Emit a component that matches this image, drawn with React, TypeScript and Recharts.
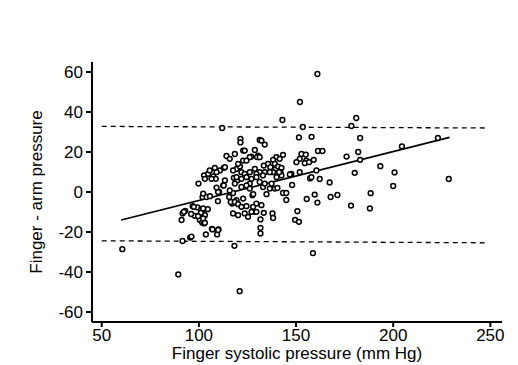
import React from 'react';
import { ScatterChart, Scatter, XAxis, YAxis, ReferenceLine } from 'recharts';

// finger systolic pressure (mm Hg) vs finger - arm difference
const xValues = [
  161, 152, 143, 112, 153.5, 181, 178.5, 183, 151.5, 158, 161.3, 163.6, 152.8, 155, 182, 176, 204.5, 223, 228.6, 193.4,
  200.7, 200, 180.2, 167.3, 157.2, 162.2, 148, 188.4, 188, 178.3, 171.3, 167.8, 159.6, 161, 155.5, 145, 150.7, 149.5, 151.5, 137.9,
  138.2, 158.7, 131.7, 131.7, 131.7, 121, 133.4, 128.8, 60.6, 89.4, 91.6, 95.5, 103.6, 106.7, 110.1, 109.4, 118.3, 91.1, 91.6, 93,
  97.9, 96.8, 99.3, 101.2, 101.9, 103.1, 100.5, 101.7, 102.6, 104.6, 101.9, 104, 109.8, 117.1, 119.4, 117.6, 120.2, 123.6, 127.6, 125.3,
  99.8, 102.2, 105.7, 110.4, 112.5, 115.6, 117.6, 116.4, 118, 119.7, 113.4, 121.9, 126.2, 97.4, 96.2, 121.4, 121.4, 131.3, 114.2, 115.9,
  118.5, 122.8, 128.8, 127, 122.8, 112.8, 110.8, 109.1, 107.4, 108.7, 119.4, 121.1, 109.9, 109.1, 128, 132.2, 133.9, 130.5, 143.3, 139.9,
  141.6, 138.2, 151.9, 155.3, 154.5, 156.7, 159.1, 150.2, 126.2, 133.4, 135.6, 136.8, 139.1, 139.6, 140.8, 142.5, 142, 138.2, 136.5, 133.9,
  131.3, 128.8, 129.6, 147.6, 151.9, 160.5, 133, 142.5, 146.8, 157.9, 143.3, 145, 132.2, 129.6, 127.9, 129.6, 127.1, 133, 133.9, 131.3,
  136.5, 134.8, 139.1, 137.4, 141.3, 140, 140.4, 123.6, 120.2, 124.5, 129.9, 117.6, 121.9, 123.6, 126.2, 119.4, 121.9, 124.5, 127.1, 129.6,
  106.5, 102.7, 103.1, 104.8, 105.6, 108.2, 113.4, 131.3, 112.8, 115.9, 118.5, 124.5, 126.2, 118.5, 120.2, 121.9, 124.5, 122.8, 183, 92.3,
  102.2, 101, 99.6, 102.2, 103.1, 107, 109.9, 96,
];
const yValues = [
  59, 45, 36, 32, 32.5, 37, 33, 27, 27.3, 27.6, 20.5, 20.5, 19, 18.7, 20, 17.7, 22.8, 27, 6.5, 12.9,
  9.8, 3, 9.6, 4.8, 6.8, 6.5, 3.5, -0.6, -8.2, -6.8, -1.5, -2.5, -1.3, -5.3, -3.5, -4, -9.6, -13.9, -14.9, -10.7,
  -13, -30.6, -13.7, -17.9, -20.7, -49.6, -10.4, -9.9, -28.6, -41.2, -24.5, -22.8, -21.2, -18.4, -18.7, -21.2, -26.9, -14, -10.7, -9.4,
  -11.9, -7.1, -7.7, -8.6, -10.2, -11.6, -14, -15.2, -15.7, -8.6, -2.5, -2.5, -4.6, -5.8, -4.1, -10.7, -11.6, -10.7, -1.6, -12.4,
  4.2, -0.8, -2.1, 0, 3.3, -2.5, -0.5, -5, 7.1, 5.8, 5.8, 2.5, 4.2, -7.4, -22.3, 26.5, 24.8, 26, 18, 16.6,
  19, 20.7, 21, 17.7, 15.7, 12.1, 10.8, 9.9, 7.8, 6.6, 11.6, 12.8, 0, 2.2, -1.1, 25.7, 23.7, 18.2, 18.6, 17.4,
  16.6, 16.1, 16.6, 15.7, 14.4, 14.9, 16.1, 14.9, 17.4, 13.2, 14.1, 12.4, 14.1, 11.6, 12.7, 12.1, 9.9, 9.9, 9.9, 9.9,
  9.9, 11.6, 9.1, 9.1, 9.9, 10.8, 8.3, 8.3, 8.8, 7.4, -0.5, -0.5, -6.6, -5.8, -7.4, -9.9, -9.9, 2.5, 4.2, 5,
  1.7, -1.1, 1.7, 4.2, 9.9, 7.4, 2, 20.7, 14.1, 15.7, 17.4, 10.8, 9.9, 9.1, 9.9, 7.4, 6.6, 7.4, 6.6, 7.4,
  6.6, 8.3, 6.6, 9.1, 10.8, 12.1, 12.4, 17.4, 3.3, 0.8, 4.2, 3.3, 1.7, -5, -6.1, -7.4, -7.1, -3.3, 16.1, -9.9,
  -8.2, -10.4, -12.1, -13.2, -15.4, -18.7, -19, -11,
];

const xTicks = [50, 100, 150, 200, 250];
const yTicks = [-60, -40, -20, 0, 20, 40, 60];

// regression line and the two limits of agreement (endpoints as drawn)
const fitX = [60, 229];
const fitY = [-14, 27.3];
const upperX = [50, 248];
const upperY = [32.8, 32];
const lowerX = [50, 248];
const lowerY = [-24.4, -25.4];

const points = xValues.map((x, i) => ({ x, y: yValues[i] }));

const seg = (xs: number[], ys: number[]) => [
  { x: xs[0], y: ys[0] },
  { x: xs[1], y: ys[1] },
];

const OpenCircle = (props: any) => (
  <circle cx={props.cx} cy={props.cy} r={2.4} fill="#fff" stroke="#000" strokeWidth={1.5} />
);

const font = '"Liberation Sans", Arial, sans-serif';

export default function App() {
  return (
    <div style={{ background: '#fff' }}>
      <style>{`body{margin:0}`}</style>
      <ScatterChart
        width={518}
        height={365}
        margin={{ top: 62, right: 16, bottom: 3, left: 42 }}
        style={{ fontFamily: font }}
      >
        <XAxis
          type="number"
          dataKey="x"
          domain={[45, 256]}
          ticks={xTicks}
          allowDataOverflow
          stroke="#000"
          strokeWidth={2}
          tickSize={5}
          tickMargin={2}
          height={40}
          tick={{ fill: '#000', fontSize: 17 }}
          label={{ value: 'Finger systolic pressure (mm Hg)', position: 'insideBottom', offset: 3, fill: '#000', fontSize: 17 }}
        />
        <YAxis
          type="number"
          dataKey="y"
          domain={[-65, 65]}
          ticks={yTicks}
          allowDataOverflow
          stroke="#000"
          strokeWidth={2}
          tickSize={6}
          tickMargin={3}
          width={50}
          tick={{ fill: '#000', fontSize: 17 }}
          label={{ value: 'Finger - arm pressure', angle: -90, position: 'insideLeft', offset: -6, fill: '#000', fontSize: 17, style: { textAnchor: 'middle' } }}
        />
        <ReferenceLine segment={seg(upperX, upperY)} stroke="#000" strokeWidth={1.3} strokeDasharray="5 4" />
        <ReferenceLine segment={seg(lowerX, lowerY)} stroke="#000" strokeWidth={1.3} strokeDasharray="5 4" />
        <ReferenceLine segment={seg(fitX, fitY)} stroke="#000" strokeWidth={1.6} />
        <Scatter data={points} shape={OpenCircle} isAnimationActive={false} />
      </ScatterChart>
    </div>
  );
}
